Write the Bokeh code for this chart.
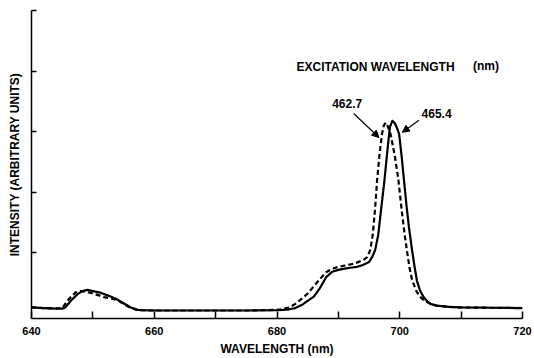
from bokeh.plotting import figure
from bokeh.models import Range1d, FixedTicker, Label, Arrow, NormalHead
from bokeh.embed import file_html
from bokeh.resources import INLINE

# Emission spectrum, excitation at 465.4 nm (solid curve)
wl_465 = [640, 642, 644, 645, 645.5, 646.4, 647.5, 648.3, 649.1, 650, 651, 652.4,
          654, 655, 656.2, 657.3, 658, 660, 665, 670, 675, 680, 681, 682, 683, 684,
          685, 686, 687, 688, 689, 690, 691, 692, 693, 694, 695, 695.5, 696, 696.5,
          697, 697.5, 698, 698.4, 698.8, 699.2, 699.6, 699.9, 700.3, 700.7, 701.1,
          701.5, 702, 702.4, 702.8, 703.3, 703.9, 704.5, 705, 706, 708, 710, 715, 720]
int_465 = [0.10, 0.09, 0.08, 0.08, 0.10, 0.21, 0.32, 0.37, 0.39, 0.37, 0.35, 0.30,
           0.23, 0.17, 0.10, 0.06, 0.055, 0.05, 0.05, 0.05, 0.05, 0.055, 0.06, 0.07, 0.09, 0.14,
           0.21, 0.28, 0.42, 0.60, 0.69, 0.72, 0.74, 0.755, 0.77, 0.80, 0.85, 0.93, 1.05, 1.30,
           1.75, 2.19, 2.70, 3.08, 3.18, 3.14, 3.05, 2.96, 2.60, 2.19, 1.78,
           1.42, 1.05, 0.78, 0.54, 0.38, 0.27, 0.20, 0.16, 0.13, 0.11, 0.10, 0.095, 0.09]

# Emission spectrum, excitation at 462.7 nm (dashed curve)
wl_462 = [640, 642, 644, 645, 646.1, 647.2, 648, 649, 650, 651, 651.8, 653, 654,
          655, 656, 657, 658, 660, 665, 670, 675, 680, 681, 682, 683, 684, 685, 686,
          687, 688, 689, 690, 691, 692, 693, 694, 694.7, 695.2, 695.6, 696.0, 696.3,
          696.7, 697.1, 697.4, 697.7, 698.0, 698.5, 699.2, 699.8, 700.3, 700.8,
          701.3, 701.6, 702.0, 702.7, 703.4, 704, 705, 706, 708, 710, 715, 720]
int_462 = [0.10, 0.09, 0.085, 0.09, 0.24, 0.35, 0.37, 0.355, 0.33, 0.30, 0.27, 0.25, 0.22,
           0.16, 0.10, 0.065, 0.055, 0.05, 0.05, 0.05, 0.05, 0.06, 0.075, 0.10, 0.16, 0.24, 0.33, 0.45,
           0.57, 0.68, 0.74, 0.77, 0.79, 0.81, 0.84, 0.88, 0.93, 1.05, 1.30, 1.75, 2.19,
           2.62, 2.96, 3.10, 3.15, 3.10, 2.96, 2.60, 2.19, 1.72, 1.30,
           0.95, 0.75, 0.56, 0.37, 0.27, 0.21, 0.16, 0.13, 0.11, 0.10, 0.095, 0.09]

x_label_ticks = [640, 660, 680, 700, 720]
x_plain_ticks = [650, 670, 690, 710]
y_ticks = [1, 2, 3, 4, 5]

FONT = "Liberation Sans"

p = figure(width=534, height=358, output_backend="svg", toolbar_location=None,
           x_range=Range1d(640, 720), y_range=Range1d(-0.082, 5.0),
           min_border_left=31, min_border_right=12, min_border_top=10,
           min_border_bottom=40)
p.xgrid.visible = False
p.ygrid.visible = False
p.outline_line_color = None
p.background_fill_color = "white"
p.border_fill_color = "white"

p.line(wl_465, int_465, line_color="black", line_width=2.2, line_join="round")
p.line(wl_462, int_462, line_color="black", line_width=2.2, line_dash="5 3",
       line_join="round")

# labelled ticks every 20 nm, unlabelled ticks in between, all pointing inward
xa = p.xaxis[0]
xa.ticker = FixedTicker(ticks=x_label_ticks, minor_ticks=x_plain_ticks)
xa.major_tick_in = 7
xa.major_tick_out = 0
xa.minor_tick_in = 7
xa.minor_tick_out = 0
xa.axis_line_width = 1.5
xa.major_tick_line_width = 1.5
xa.minor_tick_line_width = 1.5
xa.major_label_standoff = 8
xa.major_label_text_font = FONT
xa.major_label_text_font_style = "bold"
xa.major_label_text_font_size = "11px"
xa.major_label_text_color = "black"
xa.axis_label = "WAVELENGTH (nm)"
xa.axis_label_standoff = 4
xa.axis_label_text_font = FONT
xa.axis_label_text_font_style = "bold"
xa.axis_label_text_font_size = "12px"
xa.axis_label_text_color = "black"

# unlabelled intensity ticks
ya = p.yaxis[0]
ya.ticker = FixedTicker(ticks=[], minor_ticks=y_ticks)
ya.major_label_standoff = 0
ya.major_tick_in = 0
ya.major_tick_out = 0
ya.minor_tick_in = 5
ya.minor_tick_out = 0
ya.axis_line_width = 1.5
ya.minor_tick_line_width = 1.5
ya.axis_label = "INTENSITY (ARBITRARY UNITS)"
ya.axis_label_standoff = 10
ya.axis_label_text_font = FONT
ya.axis_label_text_font_style = "bold"
ya.axis_label_text_font_size = "12px"
ya.axis_label_text_color = "black"


def note(x, y, text):
    p.add_layout(Label(x=x, y=y, text=text, text_align="center",
                       text_baseline="middle", text_font=FONT,
                       text_font_style="bold", text_font_size="12px",
                       text_color="black"))


note(696.06, 4.07, "EXCITATION WAVELENGTH")
note(714.05, 4.08, "(nm)")
note(691.43, 3.46, "462.7")
note(706.0, 3.295, "465.4")

for xs, ys, xe, ye in [(692.49, 3.30, 696.61, 2.905), (703.13, 3.19, 700.42, 2.99)]:
    p.add_layout(Arrow(x_start=xs, y_start=ys, x_end=xe, y_end=ye,
                       line_color="black", line_width=1.2,
                       end=NormalHead(size=7, fill_color="black",
                                      line_color="black", line_width=1)))

open("out.html", "w").write(file_html(p, INLINE))
